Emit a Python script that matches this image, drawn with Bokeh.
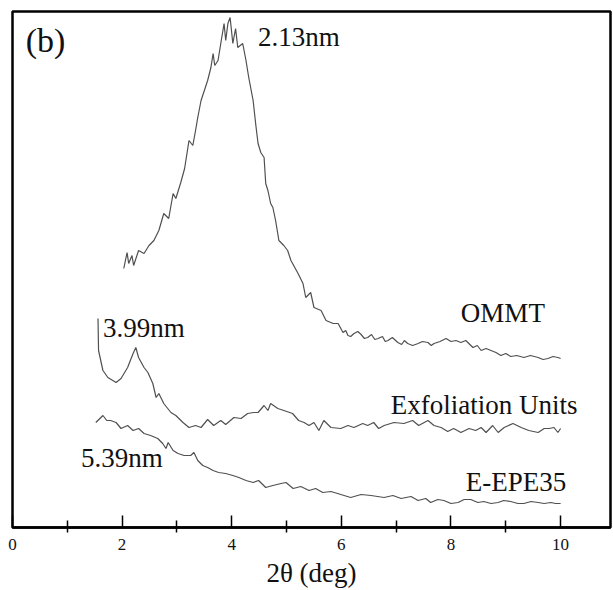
from bokeh.plotting import figure
from bokeh.models import Range1d, FixedTicker, Label
from bokeh.embed import file_html
from bokeh.resources import INLINE

# ---- data (2theta in deg, intensity in a.u.) ----
ommt_x = [2.03, 2.09, 2.12, 2.18, 2.21, 2.30, 2.40, 2.49, 2.58, 2.67, 2.76, 2.85, 2.93, 2.98,
          3.07, 3.14, 3.22, 3.29, 3.34, 3.38, 3.44, 3.56, 3.62, 3.66, 3.69, 3.75, 3.80, 3.86,
          3.89, 3.93, 3.97, 4.02, 4.07, 4.11, 4.20, 4.26, 4.31, 4.39, 4.44, 4.48, 4.53, 4.59,
          4.62, 4.66, 4.71, 4.75, 4.80, 4.86, 4.95, 5.02, 5.08, 5.21, 5.30, 5.35, 5.44, 5.50,
          5.63, 5.72, 5.85, 5.94, 6.03, 6.08, 6.12, 6.17, 6.23, 6.30, 6.36, 6.42, 6.48, 6.55,
          6.61, 6.67, 6.75, 6.80, 6.85, 6.93, 7.03, 7.10, 7.15, 7.21, 7.30, 7.40, 7.48, 7.58,
          7.64, 7.69, 7.80, 7.91, 8.00, 8.09, 8.18, 8.27, 8.40, 8.48, 8.55, 8.64, 8.73, 8.82,
          8.91, 9.00, 9.09, 9.20, 9.33, 9.45, 9.59, 9.68, 9.77, 9.86, 9.95, 10.00]
ommt_y = [259, 275, 264, 272, 262, 277, 274, 282, 287, 297, 314, 309, 334, 329,
          345, 359, 387, 382, 397, 410, 427, 447, 460, 474, 462, 467, 484, 504,
          487, 504, 510, 484, 499, 480, 484, 467, 450, 427, 402, 384, 375, 370,
          344, 337, 324, 320, 307, 287, 282, 277, 267, 254, 244, 230, 235, 220,
          217, 207, 204, 204, 195, 197, 192, 191, 194, 196, 193, 189, 190, 193,
          188, 189, 191, 186, 187, 190, 185, 183, 187, 184, 182, 184, 186, 185,
          182, 184, 186, 189, 186, 187, 185, 187, 180, 182, 177, 179, 177, 175,
          172, 174, 171, 172, 170, 172, 170, 168, 169, 171, 170, 169]

exf_x = [1.56, 1.57, 1.65, 1.74, 1.89, 1.98, 2.10, 2.20, 2.25, 2.30, 2.40, 2.47, 2.56, 2.62,
         2.67, 2.76, 2.89, 2.98, 3.11, 3.22, 3.34, 3.44, 3.56, 3.67, 3.80, 3.89, 4.04, 4.17,
         4.29, 4.40, 4.48, 4.59, 4.66, 4.71, 4.84, 4.95, 5.11, 5.22, 5.32, 5.41, 5.50, 5.59,
         5.68, 5.81, 5.99, 6.12, 6.23, 6.39, 6.48, 6.59, 6.68, 6.78, 6.96, 7.14, 7.30, 7.41,
         7.58, 7.69, 7.82, 7.94, 8.05, 8.18, 8.33, 8.45, 8.55, 8.64, 8.76, 8.86, 8.97, 9.13,
         9.28, 9.42, 9.59, 9.70, 9.79, 9.88, 9.95, 10.00]
exf_y = [209, 177, 157, 150, 145, 149, 160, 174, 180, 170, 160, 155, 144, 130,
         134, 124, 115, 112, 105, 100, 102, 100, 108, 102, 107, 103, 110, 109,
         114, 115, 115, 122, 117, 124, 119, 117, 114, 107, 105, 102, 105, 97,
         107, 100, 99, 102, 100, 104, 102, 105, 99, 102, 105, 104, 107, 102,
         107, 102, 100, 96, 99, 95, 99, 97, 100, 95, 102, 95, 100, 104,
         100, 97, 95, 99, 99, 100, 95, 99]

epe_x = [1.52, 1.65, 1.72, 1.79, 1.89, 1.98, 2.10, 2.20, 2.30, 2.40, 2.52, 2.65, 2.74, 2.80,
         2.84, 2.93, 3.02, 3.13, 3.25, 3.31, 3.38, 3.47, 3.56, 3.66, 3.76, 3.89, 4.02, 4.13,
         4.26, 4.39, 4.49, 4.62, 4.75, 4.90, 4.99, 5.12, 5.26, 5.41, 5.53, 5.66, 5.81, 5.99,
         6.17, 6.36, 6.54, 6.78, 6.94, 7.09, 7.27, 7.40, 7.54, 7.63, 7.76, 7.87, 8.00, 8.13,
         8.24, 8.36, 8.49, 8.60, 8.73, 8.86, 8.96, 9.09, 9.22, 9.33, 9.46, 9.59, 9.70, 9.82,
         9.91, 10.00]
epe_y = [105, 112, 107, 107, 105, 99, 102, 97, 99, 94, 92, 89, 84, 79,
         85, 77, 74, 72, 72, 75, 67, 62, 60, 57, 55, 54, 52, 50,
         47, 45, 47, 40, 42, 44, 45, 39, 41, 37, 39, 35, 36, 33,
         30, 33, 32, 30, 32, 29, 31, 27, 29, 25, 28, 27, 24, 25,
         28, 28, 25, 26, 24, 25, 27, 26, 24, 24, 26, 25, 24, 25,
         24, 24]

major_ticks = [0, 2, 4, 6, 8, 10]
minor_ticks = [1, 3, 5, 7, 9]

labels = ["(b)", "2.13nm", "3.99nm", "5.39nm", "OMMT", "Exfoliation Units", "E-EPE35"]

FONT = "'Liberation Serif', 'Times New Roman', serif"

p = figure(width=613, height=590, output_backend="svg", toolbar_location=None,
           x_range=Range1d(0, 10.91), y_range=Range1d(0, 516),
           y_axis_location=None, min_border_left=12, min_border_right=3,
           min_border_top=11, min_border_bottom=63)
p.grid.visible = False
p.outline_line_color = "black"
p.outline_line_width = 2.5
p.background_fill_color = "white"
p.border_fill_color = "white"

ax = p.xaxis[0]
ax.ticker = FixedTicker(ticks=major_ticks, minor_ticks=minor_ticks)
ax.axis_line_color = "black"
ax.axis_line_width = 2.5
ax.major_tick_in = 12
ax.major_tick_out = 0
ax.major_tick_line_width = 1.5
ax.minor_tick_in = 7
ax.minor_tick_out = 5
ax.minor_tick_line_width = 1.5
ax.major_label_text_font = FONT
ax.major_label_text_font_size = "17px"
ax.major_label_text_color = "#111111"
ax.major_label_standoff = 6
ax.axis_label = "2θ (deg)"
ax.axis_label_text_font = FONT
ax.axis_label_text_font_size = "27px"
ax.axis_label_text_font_style = "normal"
ax.axis_label_text_color = "#111111"
ax.axis_label_standoff = 5

lc = "#505050"
p.line(ommt_x, ommt_y, line_color=lc, line_width=1.2)
p.line(exf_x, exf_y, line_color=lc, line_width=1.2)
p.line(epe_x, epe_y, line_color=lc, line_width=1.2)

label_pos = [(0.24, 487, "34px"), (4.48, 491, "27px"), (1.65, 200, "27px"), (1.25, 70, "27px"),
             (8.18, 215, "27px"), (6.90, 123, "27px"), (8.27, 46, "27px")]
for txt, (lx, ly, fs) in zip(labels, label_pos):
    p.add_layout(Label(x=lx, y=ly, text=txt, text_font=FONT, text_font_size=fs,
                       text_baseline="middle", text_align="left", text_color="#111111"))

open("out.html", "w").write(file_html(p, INLINE))
